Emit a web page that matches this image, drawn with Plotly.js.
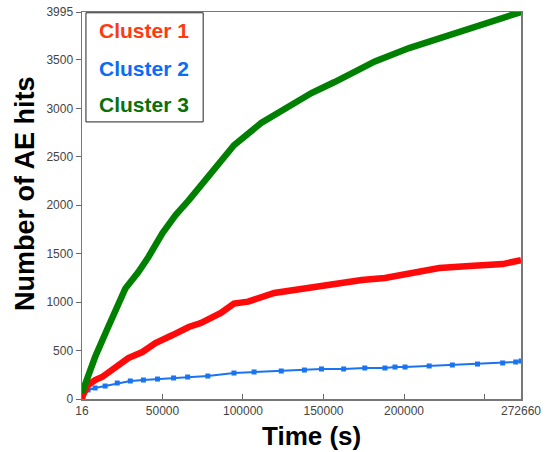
<!DOCTYPE html>
<html>
<head>
<meta charset="utf-8">
<script src="https://cdn.plot.ly/plotly-3.0.1.min.js"></script>
<style>html,body{margin:0;padding:0;background:#fff;}#chart{width:547px;height:452px;}</style>
</head>
<body>
<div id="chart"></div>
<script>
// Cluster 3 (green)
const timeC3 = [16, 8140, 16270, 22520, 26890, 35016, 41270, 50016, 58140, 66270, 73766, 80016, 94390, 111266, 128140, 142516, 156890, 165640, 181890, 203140, 223766, 244390, 261266, 272660];
const hitsC3 = [62, 433, 743, 1000, 1140, 1311, 1466, 1713, 1899, 2050, 2200, 2330, 2620, 2849, 3014, 3158, 3272, 3350, 3485, 3623, 3736, 3839, 3932, 3995];
// Cluster 1 (red)
const timeC1 = [16, 640, 3766, 8140, 12516, 20640, 28766, 37516, 45640, 56266, 66266, 73766, 86266, 94390, 103140, 119390, 134390, 150640, 165640, 173766, 188140, 203140, 221890, 240640, 261266, 272660];
const hitsC1 = [0, 41, 144, 196, 227, 320, 423, 485, 578, 660, 743, 784, 888, 985, 1005, 1094, 1135, 1176, 1207, 1228, 1249, 1300, 1352, 1372, 1393, 1434];
// Cluster 2 (blue)
const timeC2 = [16, 3766, 8140, 14390, 21890, 30016, 38140, 46890, 56890, 65640, 78140, 94390, 106890, 123766, 138140, 148766, 162516, 175640, 188140, 194390, 200640, 215640, 230016, 245640, 261266, 269390, 272660];
const hitsC2 = [31, 93, 114, 134, 165, 186, 196, 206, 217, 227, 237, 268, 279, 289, 299, 310, 310, 320, 320, 330, 330, 341, 351, 361, 372, 382, 392];

const xTickVals = [16, 50000, 100000, 150000, 200000, 250000, 272660];
const xTickText = ['16', '50000', '100000', '150000', '200000', '', '272660'];
const yTickVals = [0, 500, 1000, 1500, 2000, 2500, 3000, 3500, 3995];
const yTickText = ['0', '500', '1000', '1500', '2000', '2500', '3000', '3500', '3995'];
const seriesNames = ['Cluster 1', 'Cluster 2', 'Cluster 3'];
const xTitle = 'Time (s)';
const yTitle = 'Number of AE hits';

const traces = [
  {x: timeC2, y: hitsC2, name: seriesNames[1], mode: 'lines+markers', type: 'scatter',
   line: {color: '#1a73f0', width: 2}, marker: {symbol: 'square', size: 5, color: '#1a73f0'}},
  {x: timeC1, y: hitsC1, name: seriesNames[0], mode: 'lines', type: 'scatter',
   line: {color: '#ff0a0a', width: 6.5}},
  {x: timeC3, y: hitsC3, name: seriesNames[2], mode: 'lines', type: 'scatter',
   line: {color: '#008000', width: 6.5}}
];

const tickFont = {family: 'Liberation Sans, Arial, sans-serif', size: 12, color: '#444'};
const legFont = (c) => ({family: 'Liberation Sans, Arial, sans-serif', size: 21, color: c});

const layout = {
  width: 547, height: 452,
  margin: {l: 82, r: 26, t: 12, b: 53},
  paper_bgcolor: '#fff', plot_bgcolor: '#fff',
  showlegend: false,
  xaxis: {range: [16, 272660], tickvals: xTickVals, ticktext: xTickText, ticks: 'inside', ticklen: 5,
          tickcolor: '#666', showgrid: false, zeroline: false, showline: true, linecolor: '#777', linewidth: 1.5,
          mirror: true, tickfont: tickFont, fixedrange: true},
  yaxis: {range: [0, 3995], tickvals: yTickVals, ticktext: yTickText, ticks: 'outside', ticklen: 5,
          tickcolor: '#666', showgrid: false, zeroline: false, showline: true, linecolor: '#777', linewidth: 1.5,
          mirror: true, tickfont: tickFont, fixedrange: true},
  shapes: [
    {type: 'rect', xref: 'paper', yref: 'paper', x0: 0.009, x1: 0.276, y0: 0.716, y1: 0.998,
     line: {color: '#222', width: 1}, fillcolor: '#fff', layer: 'above'}
  ],
  annotations: [
    {xref: 'paper', yref: 'paper', x: 0.034, y: 0.951, xanchor: 'left', yanchor: 'middle', showarrow: false,
     text: '<b>' + seriesNames[0] + '</b>', font: legFont('#ff3a10')},
    {xref: 'paper', yref: 'paper', x: 0.034, y: 0.855, xanchor: 'left', yanchor: 'middle', showarrow: false,
     text: '<b>' + seriesNames[1] + '</b>', font: legFont('#0a6cf5')},
    {xref: 'paper', yref: 'paper', x: 0.034, y: 0.760, xanchor: 'left', yanchor: 'middle', showarrow: false,
     text: '<b>' + seriesNames[2] + '</b>', font: legFont('#0a700a')},
    {xref: 'paper', yref: 'paper', x: 0.522, y: -0.096, xanchor: 'center', yanchor: 'middle', showarrow: false,
     text: '<b>' + xTitle + '</b>', font: {family: 'Liberation Sans, Arial, sans-serif', size: 26, color: '#000'}},
    {xref: 'paper', yref: 'paper', x: -0.13, y: 0.532, xanchor: 'center', yanchor: 'middle', showarrow: false, textangle: -90,
     text: '<b>' + yTitle + '</b>', font: {family: 'Liberation Sans, Arial, sans-serif', size: 27, color: '#000'}}
  ]
};

Plotly.newPlot('chart', traces, layout, {displayModeBar: false, staticPlot: true});
</script>
</body>
</html>
